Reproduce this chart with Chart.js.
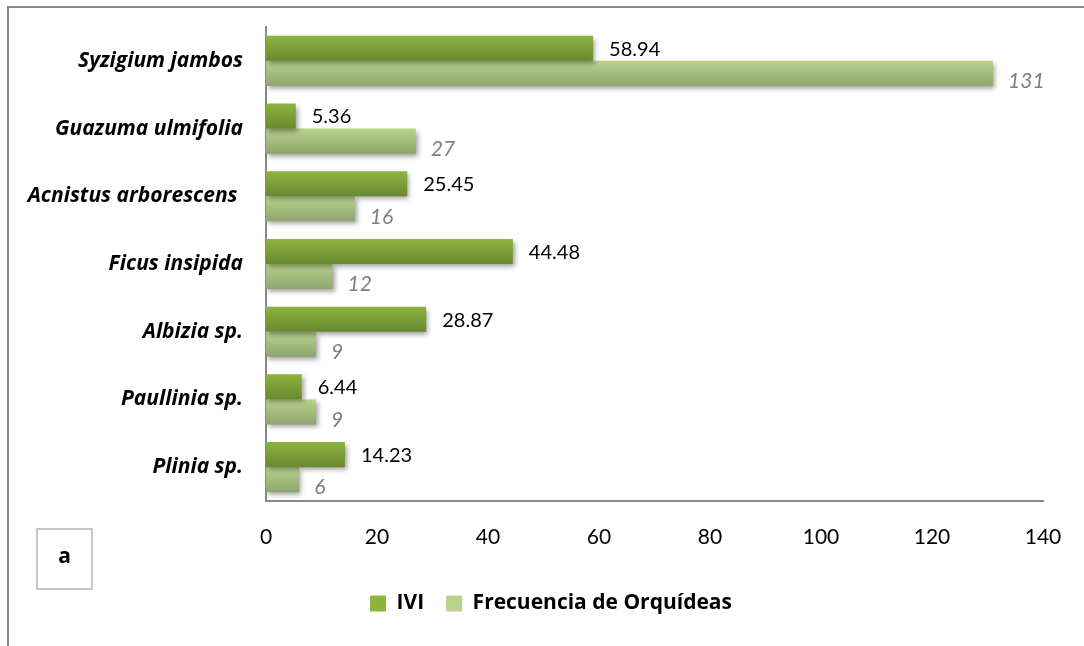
<!DOCTYPE html>
<html>
<head>
<meta charset="utf-8">
<script src="https://cdn.jsdelivr.net/npm/chart.js@4"></script>
<style>
  html, body { margin: 0; padding: 0; background: #ffffff; }
  #wrap { width: 1084px; height: 646px; position: relative; }
</style>
</head>
<body>
<div id="wrap"><canvas id="c" width="1084" height="646"></canvas></div>
<script>
const categories = ["Syzigium jambos", "Guazuma ulmifolia", "Acnistus arborescens ", "Ficus insipida", "Albizia sp.", "Paullinia sp.", "Plinia sp."];
const seriesNames = ["IVI", "Frecuencia de Orquídeas"];
const iviValues = [58.94, 5.36, 25.45, 44.48, 28.87, 6.44, 14.23];
const freqValues = [131, 27, 16, 12, 9, 9, 6];
const xTicks = [0, 20, 40, 60, 80, 100, 120, 140];
const panelLetter = "a";

const FONT = "Lato, 'Open Sans', 'DejaVu Sans', sans-serif";
const FONT2 = "'Open Sans', Lato, 'DejaVu Sans', sans-serif";
const gradStops = [
  ["#8db43f", "#68882f"],
  ["#b9d28c", "#8ea56e"]
];

const decoPlugin = {
  id: 'deco',
  afterLayout(chart) {
    const lg = chart.legend;
    if (lg) {
      const newLeft = 59;
      lg.width = lg.right - newLeft;
      lg.left = newLeft;
    }
  },
  beforeDraw(chart) {
    const ctx = chart.ctx;
    ctx.save();
    ctx.fillStyle = '#ffffff';
    ctx.fillRect(0, 0, chart.width, chart.height);
    ctx.strokeStyle = '#878787';
    ctx.lineWidth = 2;
    ctx.beginPath();
    ctx.moveTo(8, chart.height);
    ctx.lineTo(8, 7);
    ctx.lineTo(chart.width, 7);
    ctx.stroke();
    // panel letter box
    ctx.strokeStyle = '#c6c6c6';
    ctx.lineWidth = 2;
    ctx.strokeRect(37, 529, 55, 60);
    ctx.fillStyle = '#000000';
    ctx.font = "bold 21px " + FONT2;
    ctx.textAlign = 'center';
    ctx.textBaseline = 'middle';
    ctx.fillText(panelLetter, 64.5, 557);
    ctx.restore();
  },
  beforeDatasetsDraw(chart) {
    const ctx = chart.ctx;
    chart.data.datasets.forEach((ds, di) => {
      const meta = chart.getDatasetMeta(di);
      meta.data.forEach(el => {
        const h = el.height;
        const g = ctx.createLinearGradient(0, el.y - h / 2, 0, el.y + h / 2);
        g.addColorStop(0, gradStops[di][0]);
        g.addColorStop(1, gradStops[di][1]);
        el.options.backgroundColor = g;
      });
    });
    ctx.save();
    ctx.shadowColor = 'rgba(0,0,0,0.38)';
    ctx.shadowBlur = 5;
    ctx.shadowOffsetX = 2;
    ctx.shadowOffsetY = 3;
  },
  afterDatasetsDraw(chart) {
    const ctx = chart.ctx;
    ctx.restore();
    ctx.save();
    ctx.textAlign = 'left';
    ctx.textBaseline = 'middle';
    chart.data.datasets.forEach((ds, di) => {
      const meta = chart.getDatasetMeta(di);
      meta.data.forEach((el, i) => {
        const v = ds.data[i];
        if (di === 0) {
          ctx.font = "20px " + FONT;
          ctx.fillStyle = '#000000';
          ctx.fillText(v.toFixed(2), el.x + 16, el.y + 1);
        } else {
          ctx.font = "italic 21px " + FONT;
          ctx.fillStyle = '#7f7f7f';
          ctx.fillText(String(v), el.x + 15, el.y + 8);
        }
      });
    });
    ctx.restore();
  }
};

new Chart(document.getElementById('c'), {
  type: 'bar',
  data: {
    labels: categories,
    datasets: [
      { label: seriesNames[0], data: iviValues, backgroundColor: () => gradStops[0][0], borderWidth: 0 },
      { label: seriesNames[1], data: freqValues, backgroundColor: () => gradStops[1][0], borderWidth: 0 }
    ]
  },
  options: {
    indexAxis: 'y',
    responsive: false,
    animation: false,
    devicePixelRatio: 1,
    categoryPercentage: 0.74,
    barPercentage: 1.0,
    layout: { padding: { left: 0, right: 41, top: 27, bottom: 22 } },
    scales: {
      x: {
        min: 0, max: 140,
        afterBuildTicks(scale) { scale.ticks = xTicks.map(v => ({ value: v })); },
        afterFit(scale) { scale.height = 70; scale.paddingLeft = 0; scale.paddingRight = 0; },
        grid: { display: false, drawTicks: false },
        border: { display: true, color: '#8a8a8a', width: 2 },
        ticks: { color: '#000000', padding: 24, font: { family: FONT, size: 21 } }
      },
      y: {
        afterFit(scale) { scale.width = 266; scale.paddingTop = 0; scale.paddingBottom = 0; },
        grid: { display: false, drawTicks: false },
        border: { display: true, color: '#8a8a8a', width: 2 },
        ticks: { color: '#000000', padding: 23, font: { family: FONT2, size: 21, weight: 'bold', style: 'italic' } }
      }
    },
    plugins: {
      legend: {
        position: 'bottom',
        labels: {
          color: '#000000',
          boxWidth: 16,
          boxHeight: 16,
          padding: 22,
          font: { family: FONT2, size: 21, weight: 'bold' },
          generateLabels(chart) {
            return chart.data.datasets.map((ds, i) => ({
              text: ds.label,
              fillStyle: gradStops[i][0],
              strokeStyle: gradStops[i][0],
              lineWidth: 0,
              hidden: false,
              datasetIndex: i
            }));
          }
        }
      },
      tooltip: { enabled: false }
    }
  },
  plugins: [decoPlugin]
});
</script>
</body>
</html>
